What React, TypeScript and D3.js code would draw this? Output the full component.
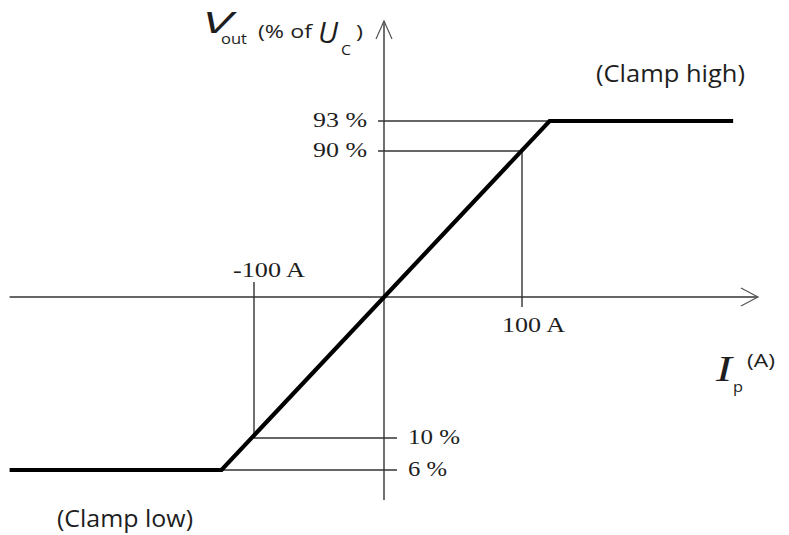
import React from "react";
import * as d3 from "d3";

// ---- Data (schematic transfer characteristic) ----
const currentA: number[] = [-288, -125, 120, 253]; // primary current Ip (A)
const voutPct: number[] = [6, 6, 93, 93]; // Vout (% of Uc)

// reference marks
const xRefTicks: number[] = [-100, 100];
const xRefLabels: string[] = ["-100 A", "100 A"];
const yRefTicksHigh: number[] = [93, 90];
const yRefLabelsHigh: string[] = ["93 %", "90 %"];
const yRefTicksLow: number[] = [10, 6];
const yRefLabelsLow: string[] = ["10 %", "6 %"];

// axis extents in data units
const xAxisExtent: number[] = [-288, 271];
const yAxisExtent: number[] = [2.25, 103];

const W = 789;
const H = 535;

// piecewise (schematic, not to scale) scales
const x = d3.scaleLinear().domain([-100, 0, 100]).range([254, 384, 522]);
const y = d3.scaleLinear().domain([6, 10, 50, 90, 93]).range([470, 438, 297, 151, 121]);

const INK = "#1e1e1e";
const THIN = "#333";
const SERIF = "'Liberation Serif', 'Times New Roman', serif";
const SANS = "'Open Sans', 'Noto Sans', sans-serif";

type TProps = {
  x: number;
  y: number;
  len: number;
  size: number;
  family?: string;
  italic?: boolean;
  children: React.ReactNode;
};

function T({ x, y, len, size, family = SANS, italic = false, children }: TProps) {
  return (
    <text
      x={x}
      y={y}
      fontFamily={family}
      fontStyle={italic ? "italic" : "normal"}
      fontSize={size}
      fill={INK}
      textLength={len}
      lengthAdjust="spacingAndGlyphs"
    >
      {children}
    </text>
  );
}

export default function App() {
  const line = d3
    .line<number>()
    .x((_, i) => x(currentA[i]))
    .y((d) => y(d));
  const curve = line(voutPct) || "";

  const x0 = x(0);
  const y0 = y(50);
  const xEnd = x(xAxisExtent[1]);
  const yTop = y(yAxisExtent[1]);

  const cornerLowX = x(currentA[1]);
  const cornerHighX = x(currentA[2]);

  return (
    <svg
      width={W}
      height={H}
      viewBox={`0 0 ${W} ${H}`}
      style={{ position: "absolute", left: 0, top: 0, background: "#fff" }}
    >
      <rect width={W} height={H} fill="#fff" />
      {/* axes */}
      <line x1={x(xAxisExtent[0])} x2={xEnd} y1={y0} y2={y0} stroke={THIN} strokeWidth={1.4} />
      <line x1={x0} x2={x0} y1={y(yAxisExtent[0])} y2={yTop} stroke={THIN} strokeWidth={1.4} />
      {/* arrowheads (open chevrons) */}
      <polyline
        points={`${xEnd - 17},${y0 - 9} ${xEnd},${y0} ${xEnd - 17},${y0 + 9}`}
        fill="none"
        stroke="#555"
        strokeWidth={1.2}
      />
      <polyline
        points={`${x0 - 8},${yTop + 18} ${x0},${yTop} ${x0 + 8},${yTop + 18}`}
        fill="none"
        stroke="#555"
        strokeWidth={1.2}
      />

      {/* reference lines, high side */}
      <line x1={x0 - 6} x2={cornerHighX} y1={y(93)} y2={y(93)} stroke={THIN} strokeWidth={1.4} />
      <line x1={x0 - 6} x2={x(100)} y1={y(90)} y2={y(90)} stroke={THIN} strokeWidth={1.4} />
      <line x1={x(100)} x2={x(100)} y1={y(90)} y2={y0 + 10} stroke={THIN} strokeWidth={1.4} />
      {/* reference lines, low side */}
      <line x1={x(-100)} x2={x(-100)} y1={y0 - 15} y2={y(10)} stroke={THIN} strokeWidth={1.4} />
      <line x1={x(-100)} x2={x0 + 13} y1={y(10)} y2={y(10)} stroke={THIN} strokeWidth={1.4} />
      <line x1={cornerLowX} x2={x0 + 13} y1={y(6)} y2={y(6)} stroke={THIN} strokeWidth={1.4} />

      {/* transfer curve */}
      <path d={curve} fill="none" stroke="#000" strokeWidth={4.2} strokeLinejoin="miter" />

      {/* serif tick labels */}
      {yRefTicksHigh.map((v, i) => (
        <T key={"yh" + v} x={313} y={y(v) + 6} len={54} size={22} family={SERIF}>
          {yRefLabelsHigh[i]}
        </T>
      ))}
      {yRefTicksLow.map((v, i) => (
        <T key={"yl" + v} x={x0 + 24} y={y(v) + 6} len={i === 0 ? 52 : 39} size={22} family={SERIF}>
          {yRefLabelsLow[i]}
        </T>
      ))}
      {xRefTicks.map((v, i) => (
        <T
          key={"x" + v}
          x={v < 0 ? x(v) - 21 : x(v) - 20}
          y={v < 0 ? y0 - 20 : y0 + 35}
          len={v < 0 ? 72 : 63}
          size={22}
          family={SERIF}
        >
          {xRefLabels[i]}
        </T>
      ))}

      {/* annotations */}
      <T x={596} y={82} len={149} size={23}>
        (Clamp high)
      </T>
      <T x={57} y={527} len={136} size={23}>
        (Clamp low)
      </T>

      {/* y-axis title */}
      <T x={202} y={33} len={30} size={30} italic>
        V
      </T>
      <T x={221} y={44} len={26} size={15}>
        out
      </T>
      <T x={258} y={38} len={54} size={19}>
        (% of
      </T>
      <T x={318} y={43} len={20} size={30} italic>
        U
      </T>
      <T x={341} y={55} len={10} size={15}>
        C
      </T>
      <T x={356} y={38} len={7} size={19}>
        )
      </T>

      {/* x-axis title */}
      <T x={716} y={381} len={16} size={36} family={SERIF} italic>
        I
      </T>
      <T x={733} y={392} len={10} size={15}>
        p
      </T>
      <T x={747} y={367} len={28} size={19}>
        (A)
      </T>
    </svg>
  );
}
